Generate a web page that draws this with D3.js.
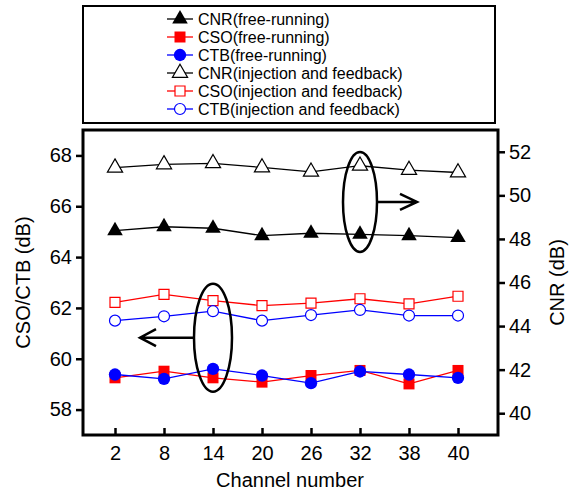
<!DOCTYPE html>
<html>
<head>
<meta charset="utf-8">
<script src="https://cdn.jsdelivr.net/npm/d3@7"></script>
<style>
  body { margin: 0; background: #fff; }
  svg { display: block; font-family: "Liberation Sans", Arial, sans-serif; }
</style>
</head>
<body>
<div id="chart"></div>
<script>
// channel numbers (categories)
const channels = ['2', '8', '14', '20', '26', '32', '38', '40'];

// CNR on right axis (dB)
const cnrFree = [48.38, 48.56, 48.49, 48.15, 48.26, 48.21, 48.15, 48.06];
const cnrInj = [51.27, 51.42, 51.47, 51.28, 51.08, 51.36, 51.16, 51.05];

// CSO / CTB on left axis (dB)
const csoFree = [59.25, 59.51, 59.25, 59.08, 59.34, 59.54, 59.01, 59.54];
const ctbFree = [59.38, 59.21, 59.60, 59.34, 59.04, 59.50, 59.38, 59.25];
const csoInj = [62.22, 62.53, 62.29, 62.09, 62.19, 62.36, 62.16, 62.46];
const ctbInj = [61.50, 61.67, 61.87, 61.50, 61.72, 61.92, 61.70, 61.70];

const leftTicks = [58, 60, 62, 64, 66, 68];
const rightTicks = [40, 42, 44, 46, 48, 50, 52];

const width = 576, height = 493;
const plot = { left: 83, right: 498, top: 130, bottom: 435 };

const svg = d3.select('#chart')
    .append('svg')
    .attr('width', width)
    .attr('height', height);

const x = d3.scalePoint()
    .domain(channels)
    .range([115, 458]);

const yL = d3.scaleLinear()
    .domain([57, 69])
    .range([plot.bottom, plot.top]);

const yR = d3.scaleLinear()
    .domain([39, 53])
    .range([plot.bottom, plot.top]);

// series definitions
const series = [
    { name: 'CNR(free-running)', values: cnrFree, y: yR, color: '#000', shape: 'triangle', filled: true },
    { name: 'CSO(free-running)', values: csoFree, y: yL, color: '#ff0000', shape: 'square', filled: true },
    { name: 'CTB(free-running)', values: ctbFree, y: yL, color: '#0000ff', shape: 'circle', filled: true },
    { name: 'CNR(injection and feedback)', values: cnrInj, y: yR, color: '#000', shape: 'triangle', filled: false },
    { name: 'CSO(injection and feedback)', values: csoInj, y: yL, color: '#ff0000', shape: 'square', filled: false },
    { name: 'CTB(injection and feedback)', values: ctbInj, y: yL, color: '#0000ff', shape: 'circle', filled: false }
];

function symbolFor(s) {
    if (s.shape === 'triangle') return d3.symbol().type(d3.symbolTriangle).size(s.filled ? 105 : 100)();
    if (s.shape === 'square') return d3.symbol().type(d3.symbolSquare).size(s.filled ? 121 : 100)();
    return d3.symbol().type(d3.symbolCircle).size(s.filled ? 120 : 95)();
}

function drawMarker(g, s, cx, cy) {
    g.append('path')
        .attr('d', symbolFor(s))
        .attr('transform', `translate(${cx},${cy})`)
        .attr('fill', s.filled ? s.color : '#fff')
        .attr('stroke', s.color)
        .attr('stroke-width', s.filled ? 0 : 1.2);
}

// Legend box
const legend = svg.append('g');
legend.append('rect')
    .attr('x', plot.left)
    .attr('y', 6)
    .attr('width', 412)
    .attr('height', 117)
    .attr('fill', 'none')
    .attr('stroke', '#000')
    .attr('stroke-width', 2);

series.forEach((s, i) => {
    const ly = 19 + i * 18;
    legend.append('line')
        .attr('x1', 167).attr('x2', 193)
        .attr('y1', ly).attr('y2', ly)
        .attr('stroke', s.color)
        .attr('stroke-width', 1.3);
    drawMarker(legend, s, 180, ly);
    legend.append('text')
        .attr('x', 198)
        .attr('y', ly)
        .attr('dy', '0.36em')
        .attr('font-size', 16)
        .text(s.name);
});

// Data lines and markers
const dataG = svg.append('g');
const order = [3, 0, 4, 5, 1, 2];
order.forEach(idx => {
    const s = series[idx];
    const line = d3.line()
        .x((d, i) => x(channels[i]))
        .y(d => s.y(d));
    dataG.append('path')
        .datum(s.values)
        .attr('d', line)
        .attr('fill', 'none')
        .attr('stroke', s.color)
        .attr('stroke-width', 1.3);
    s.values.forEach((v, i) => drawMarker(dataG, s, x(channels[i]), s.y(v)));
});

// Annotations: ellipses with arrows
const ann = svg.append('g')
    .attr('fill', 'none')
    .attr('stroke', '#000')
    .attr('stroke-width', 2.5);

const e1 = { cx: x('14'), cy: yL(60.83), rx: 19, ry: 54 };
ann.append('ellipse')
    .attr('cx', e1.cx).attr('cy', e1.cy)
    .attr('rx', e1.rx).attr('ry', e1.ry);
ann.append('path')
    .attr('d', `M${e1.cx - e1.rx},${e1.cy}H${x('2') + 25}` +
        `M${x('2') + 41},${e1.cy - 8.5}L${x('2') + 25},${e1.cy}L${x('2') + 41},${e1.cy + 8.5}`);

const e2 = { cx: x('32'), cy: yR(49.7), rx: 17, ry: 50 };
ann.append('ellipse')
    .attr('cx', e2.cx).attr('cy', e2.cy)
    .attr('rx', e2.rx).attr('ry', e2.ry);
ann.append('path')
    .attr('d', `M${e2.cx + e2.rx},${e2.cy}H${e2.cx + 57}` +
        `M${e2.cx + 40},${e2.cy - 8}L${e2.cx + 57},${e2.cy}L${e2.cx + 40},${e2.cy + 8}`);

// Axes
function styleAxis(g) {
    g.select('.domain').remove();
    g.selectAll('.tick line').attr('stroke', '#000').attr('stroke-width', 2.5);
    g.selectAll('.tick text').attr('font-size', 20).attr('fill', '#000')
        .attr('font-family', '"Liberation Sans", Arial, sans-serif');
}

svg.append('g')
    .attr('transform', `translate(${plot.left},0)`)
    .call(d3.axisLeft(yL).tickValues(leftTicks).tickSize(7).tickPadding(4))
    .call(styleAxis);

svg.append('g')
    .attr('transform', `translate(${plot.right},0)`)
    .call(d3.axisRight(yR).tickValues(rightTicks).tickSize(7).tickPadding(4))
    .call(styleAxis);

svg.append('g')
    .attr('transform', `translate(0,${plot.bottom})`)
    .call(d3.axisBottom(x).tickSize(-7).tickPadding(11))
    .call(styleAxis);

// Frame
svg.append('rect')
    .attr('x', plot.left)
    .attr('y', plot.top)
    .attr('width', plot.right - plot.left)
    .attr('height', plot.bottom - plot.top)
    .attr('fill', 'none')
    .attr('stroke', '#000')
    .attr('stroke-width', 3);

// Axis titles
svg.append('text')
    .attr('transform', `translate(30,${(plot.top + plot.bottom) / 2}) rotate(-90)`)
    .attr('text-anchor', 'middle')
    .attr('font-size', 20)
    .text('CSO/CTB (dB)');

svg.append('text')
    .attr('transform', `translate(564,${(plot.top + plot.bottom) / 2}) rotate(-90)`)
    .attr('text-anchor', 'middle')
    .attr('font-size', 20)
    .text('CNR (dB)');

svg.append('text')
    .attr('x', 290)
    .attr('y', 487)
    .attr('text-anchor', 'middle')
    .attr('font-size', 20)
    .text('Channel number');
</script>
</body>
</html>
